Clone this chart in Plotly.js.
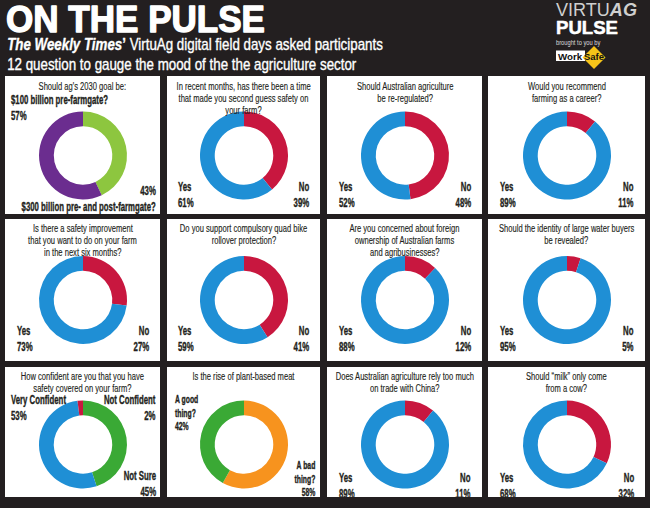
<!DOCTYPE html>
<html><head><meta charset="utf-8">
<script src="https://cdn.plot.ly/plotly-3.0.1.min.js"></script>
<style>html,body{margin:0;padding:0;background:#231f20;}#chart{width:650px;height:508px;}</style>
</head><body><div id="chart"></div>
<script>
// ---------- DATA ----------
const questions = [
  "Should ag's 2030 goal be:",
  "In recent months, has there been a time<br>that made you second guess safety on<br>your farm?",
  "Should Australian agriculture<br>be re-regulated?",
  "Would you recommend<br>farming as a career?",
  "Is there a safety improvement<br>that you want to do on your farm<br>in the next six months?",
  "Do you support compulsory quad bike<br>rollover protection?",
  "Are you concerned about foreign<br>ownership of Australian farms<br>and agribusinesses?",
  "Should the identity of large water buyers<br>be revealed?",
  "How confident are you that you have<br>safety covered on your farm?",
  "Is the rise of plant-based meat",
  "Does Australian agriculture rely too much<br>on trade with China?",
  "Should \u201cmilk\u201d only come<br>from a cow?"
];
// slices listed clockwise from 12 o'clock
const sliceLabels = [
  ["$300 billion pre- and post-farmgate?", "$100 billion pre-farmgate?"],
  ["No", "Yes"],
  ["No", "Yes"],
  ["No", "Yes"],
  ["No", "Yes"],
  ["No", "Yes"],
  ["No", "Yes"],
  ["No", "Yes"],
  ["Not Sure", "Very Confident", "Not Confident"],
  ["A bad<br>thing?", "A good<br>thing?"],
  ["No", "Yes"],
  ["No", "Yes"]
];
const sliceValues = [
  [43, 57],
  [39, 61],
  [48, 52],
  [11, 89],
  [27, 73],
  [41, 59],
  [12, 88],
  [5, 95],
  [45, 53, 2],
  [58, 42],
  [11, 89],
  [32, 68]
];
const headerTitle = "ON THE PULSE";
const headerLines = [
  "<b><i>The Weekly Times</i>\u2019</b> VirtuAg digital field days asked participants",
  "12 question to gauge the mood of the the agriculture sector"
];

// ---------- STYLE / LAYOUT ----------
const BLUE = '#1f8fd5', RED = '#c8173f', PURPLE = '#6b2d8f', LGREEN = '#8dc63f', GREEN = '#3aa935', ORANGE = '#f7931e';
const sliceColors = [
  [LGREEN, PURPLE], [RED, BLUE], [RED, BLUE], [RED, BLUE],
  [RED, BLUE], [RED, BLUE], [RED, BLUE], [RED, BLUE],
  [GREEN, BLUE, RED], [ORANGE, GREEN], [RED, BLUE], [RED, BLUE]
];
const W = 650, H = 508;
const colX = [[5,160],[167,320],[327,482],[488,645]];
const rowY = [[76,214],[219,361],[367,497]];
const donutCX = [83, 244, 405, 567];
const donutCY = [155.5, 300, 444.5];
const qFirstY = [85.5, 227.5, 375.5];
const Q_LINE = 12;
const D = 88;
const FONT = "Liberation Sans, Arial, sans-serif";
const DARK = '#231f20';
const Q_SIZE = 11.5, Q_SCALE = 0.66;
const L_SIZE = 12, L_SCALE = 0.65;
const px = x => x / W, py = y => 1 - y / H;

// label placement for special panels: [side, yCenter, inset]
const labelPos = [
  [['r', 199.5, 3], ['l', 107.5, 5]],
  null, null, null, null, null, null, null,
  [['r', 484, 3], ['l', 408, 5], ['r', 408, 3]],
  [['r', 478, 3], ['l', 412.5, 7]],
  null, null
];
const yesNoY = [194.5, 339, 485.5];

const traces = [], annotations = [], annMeta = [], shapes = [];
function addAnn(a, meta) {
  annotations.push(Object.assign({xref:'paper', yref:'paper', showarrow:false, borderpad:0}, a));
  annMeta.push(meta);
}

for (let i = 0; i < 12; i++) {
  const c = i % 4, r = Math.floor(i / 4);
  const [x0, x1] = colX[c], [y0, y1] = rowY[r];
  shapes.push({type:'rect', xref:'paper', yref:'paper', x0:px(x0), x1:px(x1), y0:py(y1), y1:py(y0),
    fillcolor:'#ffffff', line:{width:0}, layer:'below'});
  const cx = donutCX[c], cy = donutCY[r];
  traces.push({
    type:'pie', labels:sliceLabels[i], values:sliceValues[i], sort:false, direction:'clockwise', rotation:0,
    hole:0.665, textinfo:'none', hoverinfo:'none', showlegend:false,
    marker:{colors:sliceColors[i], line:{width:0}},
    domain:{x:[px(cx - D/2), px(cx + D/2)], y:[py(cy + D/2), py(cy - D/2)]}
  });
  questions[i].split('<br>').forEach((line, j) => {
    addAnn({x:px((x0 + x1) / 2), y:py(qFirstY[r] + j * Q_LINE), xanchor:'center', yanchor:'middle',
      text:line, align:'center', font:{family:FONT, size:Q_SIZE, color:DARK}}, {scale:Q_SCALE, stroke:0.15});
  });
  sliceLabels[i].forEach((lab, k) => {
    let side, yc, inset = 10.5;
    if (labelPos[i]) { [side, yc, inset] = labelPos[i][k]; }
    else { side = lab === 'Yes' ? 'l' : 'r'; yc = yesNoY[r]; }
    const pct = `<b>${sliceValues[i][k]}%</b>`;
    const labB = lab.split('<br>').map(s => `<b>${s}</b>`).join('<br>');
    const txt = (i === 0 && k === 0) ? `${pct}<br>${labB}` : `${labB}<br>${pct}`;
    const xl = side === 'l' ? x0 + inset : x1 - inset;
    addAnn({x:px(xl), y:py(yc), xanchor: side === 'l' ? 'left' : 'right', yanchor:'middle',
      align: side === 'l' ? 'left' : 'right', text:txt,
      font:{family:FONT, size: lab.includes('thing') ? 10.5 : L_SIZE, color:DARK}}, {scale:L_SCALE, stroke:0.35});
  });
}

// header
addAnn({x:px(5), y:py(19), xanchor:'left', yanchor:'middle', text:`<b>${headerTitle}</b>`,
  font:{family:FONT, size:36, color:'#ffffff'}}, {fit:259, stroke:1.3});
addAnn({x:px(6), y:py(44.5), xanchor:'left', yanchor:'middle', text:headerLines[0],
  font:{family:FONT, size:16, color:'#ffffff'}}, {fit:376, stroke:0.35});
addAnn({x:px(6), y:py(64), xanchor:'left', yanchor:'middle', text:headerLines[1],
  font:{family:FONT, size:16, color:'#ffffff'}}, {fit:350, stroke:0.35});
// logo
addAnn({x:px(555), y:py(10.5), xanchor:'left', yanchor:'middle', text:'VIRTU<b><i>AG</i></b>',
  font:{family:FONT, size:18, color:'#cfcfcf'}}, {fit:81});
addAnn({x:px(555), y:py(27), xanchor:'left', yanchor:'middle', text:'<b>PULSE</b>',
  font:{family:FONT, size:18.5, color:'#ffffff'}}, {fit:62, stroke:0.5});
addAnn({x:px(555), y:py(43), xanchor:'left', yanchor:'middle', text:'brought to you by',
  font:{family:FONT, size:6.5, color:'#dddddd'}}, {fit:45});
shapes.push({type:'rect', xref:'paper', yref:'paper', x0:px(556), x1:px(585), y0:py(61), y1:py(50.5),
  fillcolor:'#ffffff', line:{width:0}});
shapes.push({type:'path', xref:'paper', yref:'paper',
  path:`M ${px(594)} ${py(46)} L ${px(605.5)} ${py(57.5)} L ${px(594)} ${py(69)} L ${px(582.5)} ${py(57.5)} Z`,
  fillcolor:'#f6c419', line:{width:0}});
addAnn({x:px(557), y:py(56), xanchor:'left', yanchor:'middle', text:'<b>Work</b>',
  font:{family:FONT, size:9.5, color:'#111111'}}, {fit:25});
addAnn({x:px(594), y:py(56.5), xanchor:'center', yanchor:'middle', text:'<b>Safe</b>',
  font:{family:FONT, size:9.5, color:'#111111'}}, {fit:20});

const layout = {
  width:W, height:H, margin:{l:0, r:0, t:0, b:0},
  paper_bgcolor:DARK, plot_bgcolor:DARK,
  shapes:shapes, annotations:annotations, showlegend:false
};
Plotly.newPlot('chart', traces, layout, {displayModeBar:false, staticPlot:true}).then(gd => {
  gd.querySelectorAll('g.annotation').forEach(g => {
    const idx = +g.getAttribute('data-index');
    const t = g.querySelector('text.annotation-text');
    const meta = annMeta[idx], ann = annotations[idx];
    if (!t || !meta) return;
    const bb = t.getBBox();
    if (!bb.width) return;
    const s = meta.fit ? meta.fit / bb.width : meta.scale;
    const ax = ann.xanchor === 'left' ? bb.x : ann.xanchor === 'right' ? bb.x + bb.width : bb.x + bb.width / 2;
    const prev = t.getAttribute('transform') || '';
    t.setAttribute('transform', `${prev} translate(${ax},0) scale(${s},1) translate(${-ax},0)`);
    if (meta.stroke) {
      t.style.stroke = ann.font.color;
      t.style.strokeWidth = meta.stroke + 'px';
      t.style.strokeLinejoin = 'round';
    }
  });
});
</script></body></html>
